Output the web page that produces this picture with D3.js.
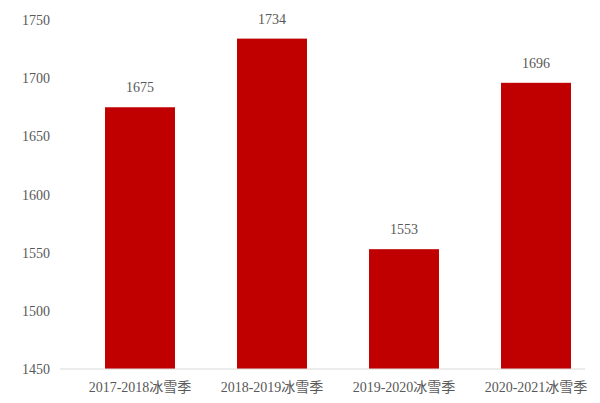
<!DOCTYPE html>
<html><head><meta charset="utf-8">
<script src="https://cdn.jsdelivr.net/npm/d3@7"></script>
<style>
body{margin:0;background:#fff;}
text{font-family:"Liberation Serif","DejaVu Serif","Noto Sans CJK SC",serif;fill:#595959;}
</style></head>
<body><div id="chart"></div>
<script>
// Chart data
const seasons = ['2017-2018冰雪季', '2018-2019冰雪季', '2019-2020冰雪季', '2020-2021冰雪季'];
const visitors = [1675, 1734, 1553, 1696];
const yTicks = [1450, 1500, 1550, 1600, 1650, 1700, 1750];

const width = 600, height = 403;
const svg = d3.select('#chart').append('svg')
    .attr('width', width).attr('height', height);

const x = d3.scaleBand().domain(seasons).range([74, 602]).paddingInner(0.47).paddingOuter(0.235);
const y = d3.scaleLinear().domain([1450, 1750]).range([369, 20]);

// Y axis labels
svg.append('g').selectAll('text').data(yTicks).enter().append('text')
    .attr('x', 50).attr('y', d => y(d) + 5)
    .attr('text-anchor', 'end').attr('font-size', 14)
    .text(d => d);

// Bars
svg.selectAll('.bar').data(visitors).enter().append('rect')
    .attr('x', (d, i) => x(seasons[i]))
    .attr('y', d => y(d))
    .attr('width', x.bandwidth())
    .attr('height', d => y(1450) - y(d))
    .attr('fill', '#C00000');

// Value labels
svg.selectAll('.val').data(visitors).enter().append('text')
    .attr('x', (d, i) => x(seasons[i]) + x.bandwidth() / 2)
    .attr('y', d => y(d) - 15)
    .attr('text-anchor', 'middle').attr('font-size', 14)
    .text(d => d);

// X axis line
svg.append('line').attr('x1', 60).attr('x2', 585)
    .attr('y1', y(1450)).attr('y2', y(1450))
    .attr('stroke', '#d9d9d9').attr('stroke-width', 1);

// Category labels
svg.selectAll('.cat').data(seasons).enter().append('text')
    .attr('x', d => x(d) + x.bandwidth() / 2)
    .attr('y', 392)
    .attr('text-anchor', 'middle').attr('font-size', 14)
    .text(d => d);
</script></body></html>
